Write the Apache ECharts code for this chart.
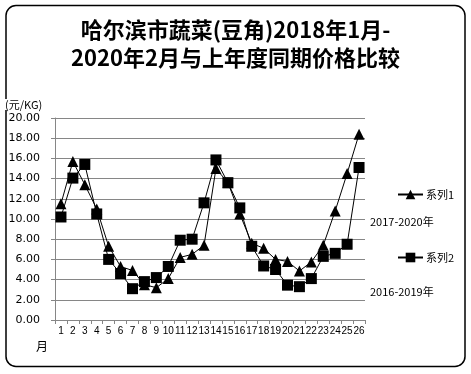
<!DOCTYPE html>
<html><head><meta charset="utf-8">
<script src="https://cdn.jsdelivr.net/npm/echarts@6/dist/echarts.min.js"></script>
<style>html,body{margin:0;padding:0;background:#fff}#c{width:471px;height:374px}</style>
</head><body><div id="c"></div>
<script>
const categories = ['1','2','3','4','5','6','7','8','9','10','11','12','13','14','15','16','17','18','19','20','21','22','23','24','25','26'];
const series1 = [11.5,15.7,13.4,11.0,7.3,5.3,4.9,3.5,3.2,4.1,6.2,6.5,7.4,15.0,13.6,10.5,7.6,7.1,6.0,5.8,4.85,5.75,7.4,10.8,14.5,18.4];
const series2 = [10.2,14.05,15.4,10.5,6.0,4.6,3.1,3.8,4.2,5.3,7.9,8.0,11.6,15.85,13.6,11.1,7.3,5.35,5.0,3.45,3.3,4.1,6.3,6.6,7.5,15.1];
const chart = echarts.init(document.getElementById('c'), null, {renderer:'canvas'});
const font = '"Noto Sans CJK SC", sans-serif';
chart.setOption({
  animation:false,
  backgroundColor:'#fff',
  title:{
    text:'哈尔滨市蔬菜(豆角)2018年1月-\n2020年2月与上年度同期价格比较',
    left:'center', top:11,
    textStyle:{fontFamily:font, fontSize:22, fontWeight:'bold', color:'#000', lineHeight:28}
  },
  legend:[
    {data:['系列1'], left:392, top:184, itemWidth:25, itemHeight:12, itemGap:4,
     textStyle:{fontFamily:font, fontSize:11, color:'#000', padding:[0,0,0,-2]}},
    {data:['系列2'], left:392, top:247, itemWidth:25, itemHeight:12, itemGap:4,
     textStyle:{fontFamily:font, fontSize:11, color:'#000', padding:[0,0,0,-2]}}
  ],
  graphic:[
    {type:'rect', z:0, shape:{x:6, y:5.5, width:459, height:361, r:10}, style:{fill:'none', stroke:'#000', lineWidth:1.5}},
    {type:'text', z:10, left:5, top:99, style:{text:'(元/KG)', font:'11px "Noto Sans CJK SC", sans-serif', fill:'#000', backgroundColor:'#fff'}},
    {type:'text', z:10, left:370, top:216, style:{text:'2017-2020年', font:'11px "Noto Sans CJK SC", sans-serif', fill:'#000'}},
    {type:'text', z:10, left:370, top:286, style:{text:'2016-2019年', font:'11px "Noto Sans CJK SC", sans-serif', fill:'#000'}},
    {type:'text', z:10, left:36, top:340, style:{text:'月', font:'12px "Noto Sans CJK SC", sans-serif', fill:'#000'}}
  ],
  grid:{left:55, right:106, top:118, bottom:54, containLabel:false},
  xAxis:{
    type:'category', data:categories, boundaryGap:true,
    axisLine:{lineStyle:{color:'#868686'}},
    axisTick:{show:true, inside:false, length:4, lineStyle:{color:'#868686'}},
    axisLabel:{interval:0, margin:6, fontFamily:'"Liberation Sans", sans-serif', fontSize:10, color:'#000'}
  },
  yAxis:{
    type:'value', min:0, max:20, interval:2,
    axisLine:{show:true, lineStyle:{color:'#868686'}},
    axisTick:{show:true, length:4, lineStyle:{color:'#868686'}},
    splitLine:{lineStyle:{color:'#868686', width:1}},
    axisLabel:{margin:15, fontFamily:'"DejaVu Sans", sans-serif', fontSize:11, color:'#000',
      formatter:v=>v.toFixed(2)}
  },
  series:[
    {name:'系列1', type:'line', data:series1, symbol:'triangle', symbolSize:11,
     lineStyle:{color:'#000', width:1}, itemStyle:{color:'#000'}, z:3},
    {name:'系列2', type:'line', data:series2, symbol:'rect', symbolSize:11,
     lineStyle:{color:'#000', width:1}, itemStyle:{color:'#000'}, z:2}
  ]
});
</script></body></html>
